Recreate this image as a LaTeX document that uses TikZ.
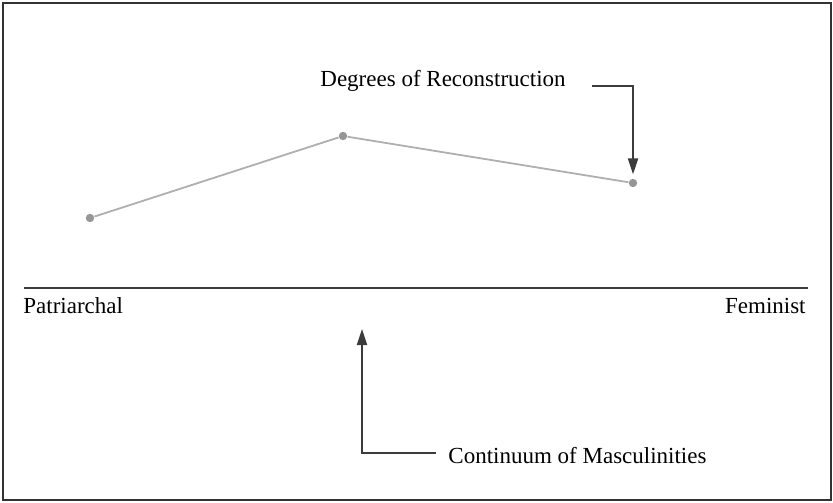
\documentclass[tikz,border=0pt]{standalone}
\usepackage{fontspec}
\setmainfont{Liberation Serif}
\usetikzlibrary{arrows.meta, positioning, calc}
\definecolor{trendgray}{RGB}{175,175,175}
\definecolor{dotgray}{RGB}{150,150,150}
\definecolor{arrowgray}{RGB}{60,60,60}

\begin{document}
\begin{tikzpicture}[x=0.5pt, y=-0.5pt,
        lbl/.style={font=\fontsize{11.5}{13}\selectfont, inner sep=0pt},
        dot/.style={circle, fill=dotgray, inner sep=0pt, minimum size=4.2pt},
        arr/.style={-{Triangle[length=8pt, width=5pt]}, draw=arrowgray, line width=1pt}
      ]
        \useasboundingbox (0,0) rectangle (833,502);
        \draw[line width=0.9pt, black!80] (3,3) rectangle (831,500);

        % continuum axis
        \coordinate (axl) at (24,288);
        \coordinate (axr) at (808,288);
        \draw[line width=1pt, arrowgray] (axl) -- (axr);
        \node[lbl, anchor=base west] (pat) at (23,313) {Patriarchal};
        \node[lbl, anchor=base east] (fem) at (806,313) {Feminist};

        % degrees of reconstruction
        \node[dot] (p1) at (90,218) {};
        \node[dot] (p2) at (343,136) {};
        \node[dot] (p3) at (633,183) {};
        \draw[trendgray, line width=0.9pt] (p1) -- (p2) -- (p3);

        \node[lbl, anchor=base west] (deg) at (320,87) {Degrees of Reconstruction};
        \node[lbl, anchor=base west] (con) at (448,463) {Continuum of Masculinities};

        \draw[arr] ($(deg.base east)+(26,-1)$) -| ([yshift=2pt]p3.north);
        \draw[arr] ($(con.base west)+(-12,-10)$) -| (362,329);
      \end{tikzpicture}
\end{document}
